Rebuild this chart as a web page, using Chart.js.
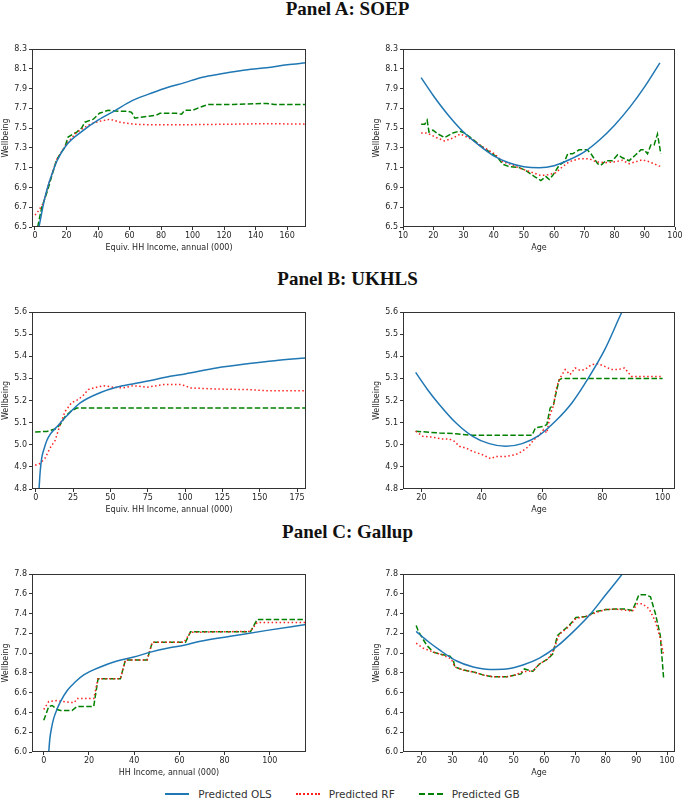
<!DOCTYPE html>
<html>
<head>
<meta charset="utf-8">
<script src="https://cdn.jsdelivr.net/npm/chart.js@4.4.1/dist/chart.umd.min.js"></script>
<style>
  body { margin: 0; width: 685px; height: 806px; background: #fff; position: relative; overflow: hidden; }
  canvas { position: absolute; }
  .ptitle { position: absolute; left: 10px; width: 675px; text-align: center;
            font-family: 'Liberation Serif', serif; font-weight: bold; font-size: 19px; color: #111; }
  #legend { position: absolute; top: 788px; left: 0; width: 685px; display: flex; justify-content: center;
            font-family: 'DejaVu Sans', sans-serif; font-size: 10.5px; color: #333; }
  .item { display: flex; align-items: center; margin: 0 12px; }
  .sample { width: 24px; margin-right: 9px; }
</style>
</head>
<body>
<div class="ptitle" style="top:-2px">Panel A: SOEP</div>
<div class="ptitle" style="top:268px">Panel B: UKHLS</div>
<div class="ptitle" style="top:521px">Panel C: Gallup</div>

<canvas id="aInc" width="318" height="212" style="left:0px;top:41px"></canvas>
<canvas id="aAge" width="316" height="212" style="left:371px;top:41px"></canvas>
<canvas id="bInc" width="318" height="211" style="left:0px;top:304px"></canvas>
<canvas id="bAge" width="316" height="211" style="left:371px;top:304px"></canvas>
<canvas id="cInc" width="318" height="212" style="left:0px;top:566px"></canvas>
<canvas id="cAge" width="316" height="212" style="left:371px;top:566px"></canvas>

<div id="legend">
  <div class="item"><span class="sample" style="border-top:2px solid #1f77b4"></span>Predicted OLS</div>
  <div class="item"><span class="sample" style="border-top:2px dotted #ff2020"></span>Predicted RF</div>
  <div class="item"><span class="sample" style="border-top:2px dashed #008000"></span>Predicted GB</div>
</div>

<script>
// Panel A: SOEP, income
const aIncOlsX = [2.5, 4, 6, 8, 10, 14, 20, 30, 40, 50, 62, 75, 84, 95, 105, 115, 126, 137, 147, 160, 172];
const aIncOlsY = [6.5, 6.62, 6.78, 6.9, 7.0, 7.17, 7.33, 7.47, 7.58, 7.67, 7.78, 7.86, 7.91, 7.96, 8.01, 8.04, 8.07, 8.095, 8.11, 8.14, 8.16];
const aIncRfX = [0, 2, 5.3, 9, 13.7, 20, 26, 30.7, 35, 41, 47.6, 54, 62.4, 70, 84, 100, 126, 147, 172];
const aIncRfY = [6.62, 6.66, 6.74, 6.95, 7.18, 7.34, 7.45, 7.50, 7.54, 7.57, 7.59, 7.56, 7.54, 7.535, 7.535, 7.535, 7.54, 7.545, 7.54];
const aIncGbX = [1.7, 4.3, 7.4, 13.7, 19, 21, 26.5, 29.6, 31.7, 37, 40.9, 46.5, 53.6, 59, 61.3, 63.4, 67, 77, 79.3, 89.9, 93, 95, 100, 104.6, 110, 125.8, 147, 152, 172];
const aIncGbY = [6.5, 6.70, 6.84, 7.18, 7.31, 7.41, 7.46, 7.5, 7.56, 7.59, 7.65, 7.68, 7.67, 7.67, 7.66, 7.60, 7.61, 7.63, 7.65, 7.65, 7.64, 7.68, 7.68, 7.71, 7.74, 7.74, 7.75, 7.74, 7.74];

// Panel A: SOEP, age
const aAgeOlsX = [16, 20, 25, 30, 35, 40, 45, 50, 55, 60, 65, 70, 75, 80, 85, 90, 95];
const aAgeOlsY = [8.01, 7.83, 7.63, 7.46, 7.33, 7.22, 7.15, 7.11, 7.10, 7.12, 7.18, 7.26, 7.38, 7.53, 7.71, 7.92, 8.16];
const aAgeRfX = [16, 18, 21, 23.8, 26.5, 29, 31.5, 33, 36.4, 40.3, 43, 46.3, 49, 52.9, 55.6, 58.4, 60.6, 62.8, 65, 68.3, 71.6, 73.8, 77, 80.4, 82.6, 84.8, 87, 89.2, 91.4, 93, 95.3];
const aAgeRfY = [7.45, 7.45, 7.405, 7.37, 7.40, 7.44, 7.405, 7.38, 7.31, 7.24, 7.16, 7.125, 7.09, 7.05, 7.02, 7.03, 7.05, 7.11, 7.16, 7.19, 7.19, 7.16, 7.15, 7.16, 7.175, 7.14, 7.16, 7.18, 7.16, 7.14, 7.11];
const aAgeGbX = [16, 17.2, 18, 18.6, 19.9, 21.6, 23.8, 26.5, 28.7, 30.4, 32.6, 35.3, 38.6, 41.4, 43, 45.2, 48.5, 50.7, 53.5, 55.6, 57.3, 58.4, 59.5, 61.7, 63.4, 64.5, 66.1, 68.3, 71, 72.2, 74.4, 75.5, 77.1, 79.3, 81, 82.6, 84.8, 87, 88.7, 89.8, 90.9, 92, 93.1, 94.2, 95.3];
const aAgeGbY = [7.54, 7.54, 7.58, 7.46, 7.48, 7.44, 7.405, 7.45, 7.47, 7.45, 7.40, 7.33, 7.26, 7.20, 7.135, 7.11, 7.10, 7.07, 7.01, 6.97, 7.01, 6.98, 7.02, 7.125, 7.16, 7.24, 7.24, 7.28, 7.28, 7.24, 7.14, 7.125, 7.17, 7.17, 7.23, 7.20, 7.17, 7.23, 7.28, 7.28, 7.24, 7.33, 7.33, 7.44, 7.24];

// Panel B: UKHLS, income
const bIncOlsX = [2.2, 3, 4, 5.5, 7.5, 10, 14, 20, 30, 43, 54, 65, 77, 90, 100, 121, 143, 160, 181];
const bIncOlsY = [4.8, 4.88, 4.94, 4.98, 5.02, 5.05, 5.08, 5.125, 5.19, 5.235, 5.26, 5.275, 5.29, 5.31, 5.32, 5.347, 5.367, 5.38, 5.392];
const bIncRfX = [-0.4, 2.9, 6.3, 9.6, 13, 16.3, 19.6, 24, 28.6, 32, 35.3, 40.8, 45.3, 52, 58.7, 65.4, 74.3, 81, 85.5, 96.7, 100, 103.3, 121, 143.5, 154.7, 181];
const bIncRfY = [4.907, 4.915, 4.94, 4.985, 5.02, 5.09, 5.15, 5.19, 5.205, 5.225, 5.25, 5.26, 5.267, 5.26, 5.257, 5.267, 5.26, 5.267, 5.272, 5.272, 5.267, 5.257, 5.252, 5.249, 5.244, 5.244];
const bIncGbX = [-0.4, 7.4, 13, 16.3, 19.6, 24, 27.5, 181];
const bIncGbY = [5.058, 5.06, 5.071, 5.09, 5.127, 5.154, 5.166, 5.166];

// Panel B: UKHLS, age
const bAgeOlsX = [18.1, 22, 26, 31.5, 37, 42.5, 48, 53.4, 58.9, 64.4, 69.9, 75.3, 80.8, 86.5, 88];
const bAgeOlsY = [5.327, 5.25, 5.181, 5.098, 5.038, 5.005, 4.993, 5.005, 5.041, 5.106, 5.189, 5.30, 5.43, 5.6, 5.64];
const bAgeRfX = [18.1, 20.5, 23.8, 27, 29.3, 31, 32.6, 34.8, 37, 40.3, 43, 44.7, 48, 51.2, 53.4, 55.6, 57.3, 58.9, 60.5, 61.6, 62.7, 63.8, 64.9, 66, 67.7, 69.3, 71, 72.6, 74.2, 76.4, 78.6, 80.8, 83, 85.2, 87.4, 89.6, 91.8, 100];
const bAgeRfY = [5.061, 5.038, 5.034, 5.026, 5.026, 5.015, 4.993, 4.985, 4.97, 4.955, 4.937, 4.947, 4.947, 4.955, 4.97, 4.993, 5.023, 5.04, 5.068, 5.053, 5.136, 5.177, 5.264, 5.302, 5.34, 5.317, 5.347, 5.336, 5.34, 5.362, 5.366, 5.354, 5.34, 5.34, 5.347, 5.309, 5.309, 5.309];
const bAgeGbX = [18.1, 26, 31.5, 33.7, 37, 56.7, 57.8, 60.5, 61.6, 62.7, 63.8, 64.9, 65.7, 66.6, 100];
const bAgeGbY = [5.061, 5.053, 5.05, 5.046, 5.043, 5.043, 5.076, 5.083, 5.091, 5.166, 5.181, 5.249, 5.294, 5.30, 5.30];

// Panel C: Gallup, income
const cIncOlsX = [2.2, 2.7, 3.5, 4.4, 6, 7.4, 10.3, 14, 17.7, 25, 32.4, 39.8, 47.2, 54.6, 62, 69.3, 84, 98.8, 116];
const cIncOlsY = [6.0, 6.135, 6.25, 6.34, 6.44, 6.51, 6.62, 6.71, 6.78, 6.86, 6.92, 6.96, 7.01, 7.05, 7.08, 7.12, 7.175, 7.23, 7.29];
const cIncRfX = [0, 2.2, 5.9, 11.8, 13.5, 14.7, 22.1, 24, 33.9, 36.1, 45.7, 48, 62, 64.9, 76.7, 91.4, 94.4, 116];
const cIncRfY = [6.43, 6.51, 6.52, 6.50, 6.50, 6.54, 6.54, 6.74, 6.74, 6.93, 6.93, 7.11, 7.11, 7.21, 7.215, 7.22, 7.31, 7.31];
const cIncGbX = [0, 2.2, 3.7, 5.9, 7.4, 12.5, 14.7, 22.1, 24, 33.9, 36.1, 45.7, 48, 62.7, 64.9, 76.7, 91.4, 94.4, 116];
const cIncGbY = [6.32, 6.46, 6.47, 6.43, 6.42, 6.42, 6.46, 6.46, 6.74, 6.74, 6.93, 6.93, 7.11, 7.11, 7.215, 7.215, 7.215, 7.34, 7.34];

// Panel C: Gallup, age
const cAgeOlsX = [18.2, 22, 25.9, 31.4, 36.8, 42.2, 47.6, 53, 58.4, 63.8, 69.2, 74.6, 80, 85.4, 87];
const cAgeOlsY = [7.22, 7.12, 7.03, 6.92, 6.86, 6.835, 6.84, 6.88, 6.95, 7.06, 7.21, 7.38, 7.59, 7.8, 7.87];
const cAgeRfX = [18.2, 20.5, 23.8, 27, 29.7, 30.8, 33.5, 36.8, 40, 43.2, 47.6, 50.8, 52.4, 54, 56.2, 58.4, 61.1, 62.7, 64.9, 68.1, 70.3, 73.5, 76.8, 80, 83.2, 87.6, 88.6, 90.3, 91.9, 94.1, 96.2, 97.8, 98.9];
const cAgeRfY = [7.10, 7.05, 7.01, 6.98, 6.94, 6.86, 6.83, 6.81, 6.78, 6.76, 6.76, 6.78, 6.81, 6.815, 6.82, 6.89, 6.94, 7.01, 7.19, 7.27, 7.35, 7.37, 7.41, 7.44, 7.445, 7.43, 7.42, 7.50, 7.50, 7.45, 7.32, 7.15, 6.98];
const cAgeGbX = [18.2, 18.9, 21.6, 23.8, 25.9, 29.2, 30.3, 30.8, 33.5, 36.8, 40, 43.2, 47.6, 50.8, 52.4, 53.5, 56.2, 58.4, 61.1, 62.7, 64.3, 68.1, 70.3, 73.5, 76.8, 80, 83.2, 86.5, 88.6, 89.7, 90.8, 93, 94.6, 96.2, 97.8, 98.9];
const cAgeGbY = [7.28, 7.22, 7.08, 7.01, 6.99, 6.97, 6.93, 6.86, 6.83, 6.81, 6.78, 6.76, 6.76, 6.78, 6.79, 6.84, 6.815, 6.89, 6.94, 6.99, 7.18, 7.28, 7.36, 7.37, 7.42, 7.44, 7.445, 7.445, 7.43, 7.50, 7.59, 7.59, 7.57, 7.40, 7.18, 6.74];

const OLS_COLOR = '#1f77b4';
const RF_COLOR = '#ff2020';
const GB_COLOR = '#008000';
const TEXT_COLOR = '#262626';
const FONT = "'DejaVu Sans', sans-serif";

function toPoints(xs, ys) {
    return xs.map((x, i) => ({ x: x, y: ys[i] }));
}

// matplotlib style box around the plot area
const framePlugin = {
    id: 'frame',
    afterDraw(chart) {
        const a = chart.chartArea;
        const ctx = chart.ctx;
        ctx.save();
        ctx.strokeStyle = '#333';
        ctx.lineWidth = 1;
        ctx.strokeRect(Math.round(a.left) + 0.5, Math.round(a.top) + 0.5,
                       Math.round(a.right - a.left) - 1, Math.round(a.bottom - a.top) - 1);
        ctx.restore();
    }
};

function makePanel(id, series, xOpts, yOpts, xTitle) {
    const ctx = document.getElementById(id).getContext('2d');
    new Chart(ctx, {
        type: 'line',
        data: {
            datasets: [
                { data: toPoints(series[0], series[1]), borderColor: OLS_COLOR, borderWidth: 1.5,
                  cubicInterpolationMode: 'monotone' },
                { data: toPoints(series[2], series[3]), borderColor: RF_COLOR, borderWidth: 1.5,
                  borderDash: [1.5, 2.5] },
                { data: toPoints(series[4], series[5]), borderColor: GB_COLOR, borderWidth: 1.5,
                  borderDash: [5.5, 2.4] }
            ]
        },
        options: {
            responsive: false,
            animation: false,
            parsing: false,
            elements: { point: { radius: 0 }, line: { tension: 0, fill: false } },
            layout: { padding: { top: 8, right: 12, left: 0, bottom: 0 } },
            plugins: { legend: { display: false }, tooltip: { enabled: false } },
            scales: {
                x: {
                    type: 'linear',
                    min: xOpts.min, max: xOpts.max,
                    border: { display: false },
                    grid: { display: true, drawOnChartArea: false, drawTicks: true, tickLength: 3, color: '#333' },
                    ticks: { stepSize: xOpts.step, includeBounds: false, maxRotation: 0, padding: 1,
                             color: TEXT_COLOR, font: { family: FONT, size: 8 } },
                    title: { display: true, text: xTitle, color: TEXT_COLOR, padding: { top: 1, bottom: 0 },
                             font: { family: FONT, size: 8 } },
                    afterFit(scale) { scale.height = 26; }
                },
                y: {
                    min: yOpts.min, max: yOpts.max,
                    border: { display: false },
                    grid: { display: true, drawOnChartArea: false, drawTicks: true, tickLength: 3, color: '#333' },
                    ticks: { stepSize: yOpts.step, padding: 2, color: TEXT_COLOR, font: { family: FONT, size: 8 },
                             callback: v => v.toFixed(1) },
                    title: { display: true, text: 'Wellbeing', color: TEXT_COLOR, padding: { top: 1, bottom: 0 },
                             font: { family: FONT, size: 8 } },
                    afterFit(scale) { scale.width = 32; }
                }
            }
        },
        plugins: [framePlugin]
    });
}

makePanel('aInc', [aIncOlsX, aIncOlsY, aIncRfX, aIncRfY, aIncGbX, aIncGbY],
          { min: -1.9, max: 172, step: 20 }, { min: 6.5, max: 8.3, step: 0.2 }, 'Equiv. HH Income, annual (000)');
makePanel('aAge', [aAgeOlsX, aAgeOlsY, aAgeRfX, aAgeRfY, aAgeGbX, aAgeGbY],
          { min: 10, max: 100, step: 10 }, { min: 6.5, max: 8.3, step: 0.2 }, 'Age');
makePanel('bInc', [bIncOlsX, bIncOlsY, bIncRfX, bIncRfY, bIncGbX, bIncGbY],
          { min: -2.5, max: 181, step: 25 }, { min: 4.8, max: 5.6, step: 0.1 }, 'Equiv. HH Income, annual (000)');
makePanel('bAge', [bAgeOlsX, bAgeOlsY, bAgeRfX, bAgeRfY, bAgeGbX, bAgeGbY],
          { min: 13.9, max: 104.1, step: 20 }, { min: 4.8, max: 5.6, step: 0.1 }, 'Age');
makePanel('cInc', [cIncOlsX, cIncOlsY, cIncRfX, cIncRfY, cIncGbX, cIncGbY],
          { min: -5.2, max: 116, step: 20 }, { min: 6.0, max: 7.8, step: 0.2 }, 'HH Income, annual (000)');
makePanel('cAge', [cAgeOlsX, cAgeOlsY, cAgeRfX, cAgeRfY, cAgeGbX, cAgeGbY],
          { min: 13.9, max: 102.6, step: 10 }, { min: 6.0, max: 7.8, step: 0.2 }, 'Age');
</script>
</body>
</html>
